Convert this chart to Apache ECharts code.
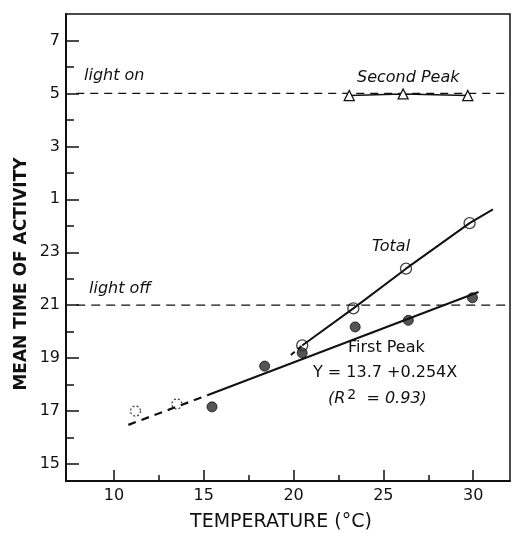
<!DOCTYPE html>
<html>
<head>
<meta charset="utf-8">
<script src="https://cdn.jsdelivr.net/npm/echarts@6/dist/echarts.min.js"></script>
<style>
  html, body { margin: 0; padding: 0; background: #fff; }
  #chart { width: 517px; height: 533px; }
</style>
</head>
<body>
<div id="chart"></div>
<script>
// axis ticks (y is continuous hours: 25 = 1 h next day)
const xMajorTicks = [10, 15, 20, 25, 30];
const xMinorTicks = [12.5, 17.5, 22.5, 27.5];
const yMajorTicks = [15, 17, 19, 21, 23, 25, 27, 29, 31];
const yMinorTicks = [16, 18, 20, 22, 24, 26, 28, 30];

// light schedule
const lightOn = 29;
const lightOff = 21;
const lightSpan = [7.9, 32.05];

// data
const secondPeak = [[23.1, 28.92], [26.1, 28.98], [29.7, 28.92]];
const totalPts = [[11.2, 17.0], [13.5, 17.27], [20.48, 19.48], [23.33, 20.88], [26.26, 22.38], [29.8, 24.1]];
const totalLineLead = [[19.85, 19.12], [20.48, 19.48]];
const totalLine = [[20.48, 19.48], [23.33, 20.88], [26.26, 22.38], [29.8, 24.1], [31.1, 24.62]];
const firstPeakPts = [[15.46, 17.16], [18.39, 18.7], [20.48, 19.2], [23.43, 20.18], [26.39, 20.43], [29.96, 21.28]];
const firstPeakFitDashed = [[10.8, 16.48], [15.2, 17.6]];
const firstPeakFit = [[15.2, 17.6], [30.3, 21.5]];

const font = "DejaVu Sans";
const chart = echarts.init(document.getElementById("chart"));

const hourLabel = (v) => String(v > 24 ? v - 24 : v);

const option = {
  animation: false,
  grid: {
    left: 66, right: 7, top: 14, bottom: 52,
    show: true, borderColor: "#111", borderWidth: 1.5,
  },
  xAxis: [
    {
      type: "value", min: 7.33, max: 32.05,
      splitLine: { show: false },
      axisLine: { lineStyle: { color: "#111", width: 2 } },
      axisTick: { inside: true, length: 11, lineStyle: { color: "#111", width: 1.5 }, customValues: xMajorTicks },
      axisLabel: { customValues: xMajorTicks, color: "#111", fontFamily: font, fontSize: 16, margin: 7 },
    },
    {
      type: "value", min: 7.33, max: 32.05, position: "bottom",
      splitLine: { show: false },
      axisLine: { show: false },
      axisTick: { inside: true, length: 6, lineStyle: { color: "#111", width: 1.5 }, customValues: xMinorTicks },
      axisLabel: { show: false },
    },
  ],
  yAxis: [
    {
      type: "value", min: 14.36, max: 32,
      splitLine: { show: false },
      axisLine: { lineStyle: { color: "#111", width: 2 } },
      axisTick: { inside: true, length: 13, lineStyle: { color: "#111", width: 1.5 }, customValues: yMajorTicks },
      axisLabel: { customValues: yMajorTicks, formatter: hourLabel, color: "#111", fontFamily: font, fontSize: 16, margin: 6 },
    },
    {
      type: "value", min: 14.36, max: 32, position: "left",
      splitLine: { show: false },
      axisLine: { show: false },
      axisTick: { inside: true, length: 8, lineStyle: { color: "#111", width: 1.5 }, customValues: yMinorTicks },
      axisLabel: { show: false },
    },
  ],
  series: [
    {
      type: "line", data: [[lightSpan[0], lightOn], [lightSpan[1], lightOn]],
      symbol: "none", lineStyle: { color: "#111", width: 1.3, type: [8, 6] },
    },
    {
      type: "line", data: [[lightSpan[0], lightOff], [lightSpan[1], lightOff]],
      symbol: "none", lineStyle: { color: "#111", width: 1.3, type: [9, 6] },
    },
    {
      type: "line", data: firstPeakFitDashed, symbol: "none",
      lineStyle: { color: "#111", width: 2.2, type: [8, 6] },
    },
    {
      type: "line", data: firstPeakFit, symbol: "none",
      lineStyle: { color: "#111", width: 2 },
    },
    {
      type: "line", data: totalLineLead, symbol: "none",
      lineStyle: { color: "#111", width: 2, type: [5, 4] },
    },
    {
      type: "line", data: totalLine, symbol: "none",
      lineStyle: { color: "#111", width: 2 },
    },
    {
      type: "line", data: secondPeak, symbol: "triangle", symbolSize: 10,
      lineStyle: { color: "#111", width: 1.5 },
      itemStyle: { color: "#fff", borderColor: "#111", borderWidth: 1.3 },
    },
    {
      type: "scatter", data: totalPts.slice(0, 2), symbol: "circle", symbolSize: 10,
      itemStyle: { color: "#fff", borderColor: "#111", borderWidth: 1.2, borderType: [2, 2] },
    },
    {
      type: "scatter", data: totalPts.slice(2), symbol: "circle", symbolSize: 11,
      itemStyle: { color: "#fff", borderColor: "#111", borderWidth: 1.3 },
    },
    {
      type: "scatter", data: firstPeakPts, symbol: "circle", symbolSize: 10,
      itemStyle: { color: "#2a2a2a", borderColor: "#111", borderWidth: 1 },
    },
  ],
  graphic: [
    {
      type: "text", x: 22, y: 274, rotation: Math.PI / 2,
      style: { text: "MEAN TIME OF ACTIVITY", font: "bold 17px " + font, fill: "#111", align: "center", verticalAlign: "middle" },
    },
    {
      type: "text", x: 281, y: 522,
      style: { text: "TEMPERATURE (°C)", font: "19px " + font, fill: "#111", align: "center", verticalAlign: "middle" },
    },
    { type: "text", left: 84, top: 68, style: { text: "light on", font: "italic 16px " + font, fill: "#111" } },
    { type: "text", left: 357, top: 70, style: { text: "Second Peak", font: "italic 16px " + font, fill: "#111" } },
    { type: "text", left: 372, top: 239, style: { text: "Total", font: "italic 16px " + font, fill: "#111" } },
    { type: "text", left: 89, top: 281, style: { text: "light off", font: "italic 16px " + font, fill: "#111" } },
    { type: "text", left: 348, top: 340, style: { text: "First Peak", font: "16px " + font, fill: "#111" } },
    { type: "text", left: 313, top: 365, style: { text: "Y = 13.7 +0.254X", font: "16px " + font, fill: "#111" } },
    {
      type: "text", left: 328, top: 388,
      style: {
        text: "(R{sup|2}  = 0.93)",
        font: "italic 16px " + font, fill: "#111",
        rich: { sup: { fontSize: 14, fontFamily: font, fontStyle: "normal", verticalAlign: "top", padding: [0, 0, 8, 2] } },
      },
    },
  ],
};

chart.setOption(option);
</script>
</body>
</html>
